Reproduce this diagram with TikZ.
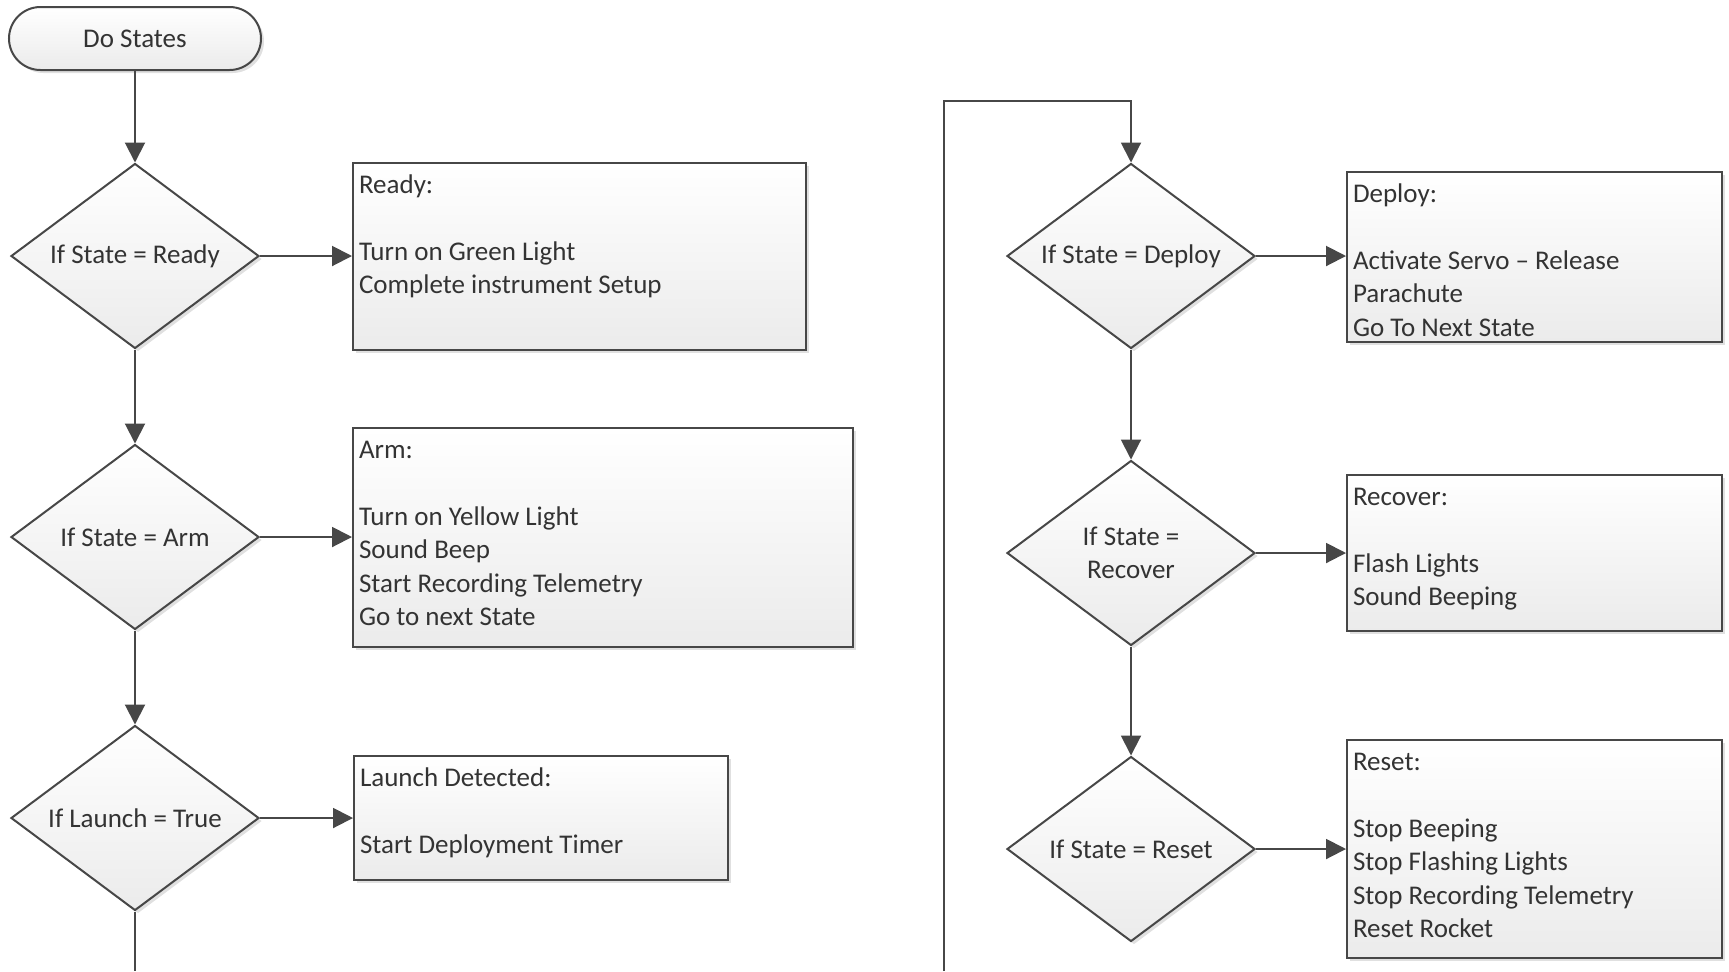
\documentclass[tikz,border=0pt]{standalone}
\usepackage{fontspec}
\setmainfont{Carlito}
\usetikzlibrary{shapes.geometric,arrows.meta,shadows,calc}
\definecolor{linec}{HTML}{474747}
\definecolor{txtc}{HTML}{333333}
\definecolor{fillbot}{HTML}{EBEBEB}
\newcommand{\boxtxt}[3]{\begin{minipage}[c][#2][t]{#1}\rule{0pt}{15pt}#3\end{minipage}}
\tikzset{
  shape base/.style={draw=linec, line width=1pt, top color=white, bottom color=fillbot,
    drop shadow={shadow xshift=1.5pt, shadow yshift=-1.5pt, fill=black, opacity=0.12},
    text=txtc, font=\fontsize{13.5pt}{16.75pt}\selectfont},
  term/.style={shape base, rectangle, rounded corners=15.75pt, minimum width=126pt,
    minimum height=31.5pt, inner sep=0pt},
  decision/.style={shape base, diamond, shape aspect=1.34, minimum width=124pt,
    minimum height=92.5pt, inner sep=0pt, align=center},
  infobox/.style={shape base, rectangle, inner xsep=3pt, inner ysep=0pt, anchor=west},
  conn/.style={draw=linec, line width=1pt},
  arr/.style={conn, -{Triangle[length=10pt,width=10pt]}}
}
\begin{document}
\begin{tikzpicture}[x=0.5pt,y=-0.5pt]
\useasboundingbox (0,0) rectangle (1729,971);
% left column
\node[term] (start) at (135,38.5) {Do States};
\node[decision] (d1) at (135,256) {If State = Ready};
\node[decision] (d2) at (135,537) {If State = Arm};
\node[decision] (d3) at (135,818) {If Launch = True};
\node[infobox] (ready) at (352,256.5) {\boxtxt{220.5pt}{93.5pt}{Ready:\\ \mbox{}\\ Turn on Green Light\\ Complete instrument Setup}};
\node[infobox] (arm) at (352,537.5) {\boxtxt{244pt}{109.5pt}{Arm:\\ \mbox{}\\ Turn on Yellow Light\\ Sound Beep\\ Start Recording Telemetry\\ Go to next State}};
\node[infobox] (launch) at (353,818) {\boxtxt{181pt}{62pt}{Launch Detected:\\ \mbox{}\\ Start Deployment Timer}};
% right column
\node[decision] (d4) at (1131,256) {If State = Deploy};
\node[decision] (d5) at (1131,553) {If State =\\ Recover};
\node[decision] (d6) at (1131,849) {If State = Reset};
\node[infobox] (deploy) at (1346,257) {\boxtxt{181.5pt}{85pt}{Deploy:\\ \mbox{}\\ Activate Servo – Release\\ Parachute\\ Go To Next State}};
\node[infobox] (recover) at (1346,553) {\boxtxt{181.5pt}{78pt}{Recover:\\ \mbox{}\\ Flash Lights\\ Sound Beeping}};
\node[infobox] (reset) at (1346,849) {\boxtxt{181.5pt}{109pt}{Reset:\\ \mbox{}\\ Stop Beeping\\ Stop Flashing Lights\\ Stop Recording Telemetry\\ Reset Rocket}};
% free ends
\coordinate (lbot) at (135,971);
\coordinate (rbot) at (944,971);
\coordinate (rtop) at (944,101);
% connectors
\draw[arr] (start.south) -- (d1.north);
\draw[arr] (d1.south) -- (d2.north);
\draw[arr] (d2.south) -- (d3.north);
\draw[conn] (d3.south) -- (lbot);
\draw[arr] (d1.east) -- (d1.east -| ready.west);
\draw[arr] (d2.east) -- (d2.east -| arm.west);
\draw[arr] (d3.east) -- (d3.east -| launch.west);
\draw[arr] (rbot) -- (rtop) -| (d4.north);
\draw[arr] (d4.south) -- (d5.north);
\draw[arr] (d5.south) -- (d6.north);
\draw[arr] (d4.east) -- (d4.east -| deploy.west);
\draw[arr] (d5.east) -- (d5.east -| recover.west);
\draw[arr] (d6.east) -- (d6.east -| reset.west);
\end{tikzpicture}
\end{document}
